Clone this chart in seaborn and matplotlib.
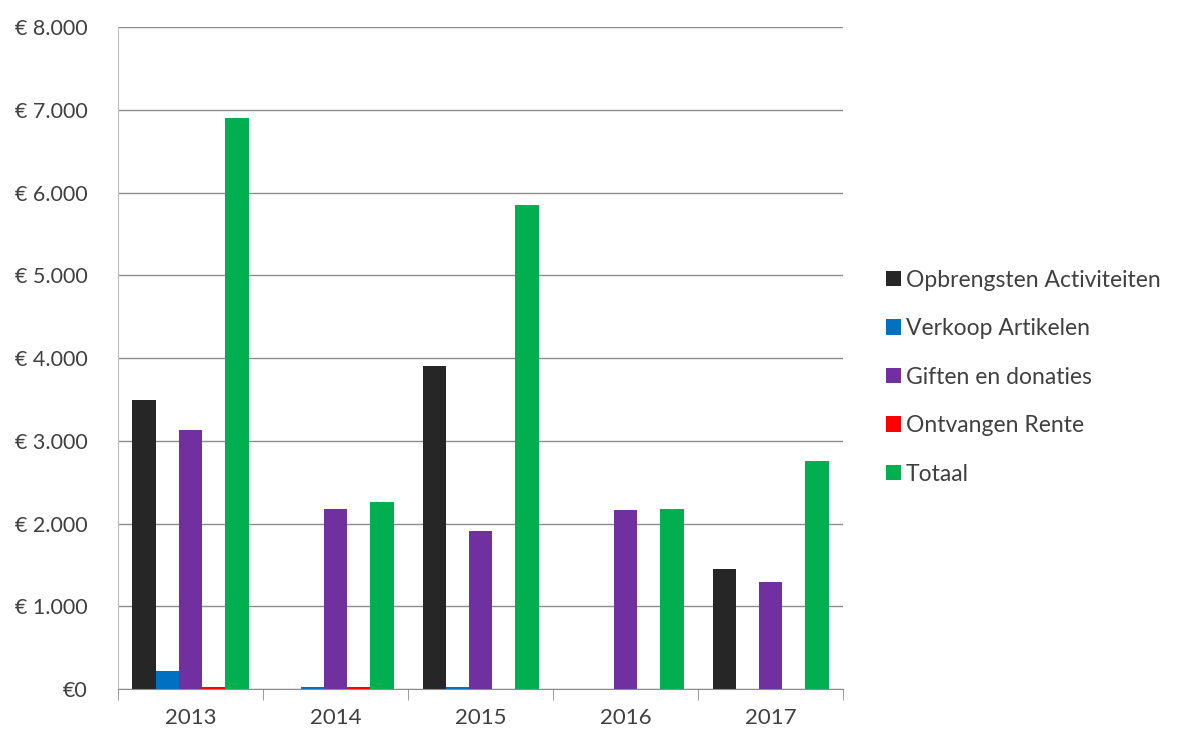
import numpy as np
import pandas as pd
import seaborn as sns
import matplotlib.pyplot as plt
from matplotlib.patches import Patch
from matplotlib.ticker import FuncFormatter, FixedLocator

years = ['2013', '2014', '2015', '2016', '2017']
series = ['Opbrengsten Activiteiten', 'Verkoop Artikelen', 'Giften en donaties',
          'Ontvangen Rente', 'Totaal']
colors = ['#262626', '#0070c0', '#7030a0', '#ff0000', '#00b050']

opbrengsten = [3490, 0, 3905, 0, 1445]
verkoop = [215, 25, 25, 0, 0]
giften = [3130, 2170, 1905, 2160, 1290]
rente = [30, 30, 0, 0, 0]
totaal = [6905, 2265, 5855, 2170, 2760]

values = [opbrengsten, verkoop, giften, rente, totaal]
rows = []
for name, vals in zip(series, values):
    for y, v in zip(years, vals):
        rows.append({'Jaar': y, 'Bron': name, 'Bedrag': v})
df = pd.DataFrame(rows)

sns.set_style('white')
plt.rcParams['font.family'] = ['Lato', 'DejaVu Sans']
text_col = '#404040'

fig = plt.figure(figsize=(11.81, 7.35), dpi=100)
ax = fig.add_axes([0.0999, 0.0626, 0.614, 0.9004])

sns.barplot(data=df, x='Jaar', y='Bedrag', hue='Bron', hue_order=series,
            palette=colors, ax=ax, saturation=1, width=0.8, legend=False,
            linewidth=0, edgecolor='none')

ax.set_ylim(0, 8000)
ax.set_xlim(-0.5, 4.5)
ax.set_yticks(np.arange(0, 8001, 1000))
ax.yaxis.set_major_formatter(FuncFormatter(
    lambda v, p: '€0' if v == 0 else '€ ' + f'{int(v):,}'.replace(',', '.')))
ax.grid(axis='y', color='#8c8c8c', linewidth=1)
ax.set_axisbelow(True)
ax.set_xlabel('')
ax.set_ylabel('')

for s in ['top', 'right']:
    ax.spines[s].set_visible(False)
ax.spines['left'].set_color('#bfbfbf')
ax.spines['bottom'].set_color('#8c8c8c')

ax.tick_params(axis='y', length=8, color='#8c8c8c', labelsize=15.5, labelcolor=text_col, pad=14)
ax.tick_params(axis='x', which='major', length=0, labelsize=16, labelcolor=text_col, pad=14)
ax.xaxis.set_minor_locator(FixedLocator(np.arange(-0.5, 4.6, 1)))
ax.tick_params(axis='x', which='minor', length=8, color='#8c8c8c', bottom=True)

handles = [Patch(facecolor=c, edgecolor='none') for c in colors]
fig.legend(handles, series, loc='center left', bbox_to_anchor=(0.733, 0.487),
           frameon=False, fontsize=16.5, labelcolor=text_col,
           handlelength=0.65, handleheight=0.65, handletextpad=0.2,
           labelspacing=1.2)

fig.savefig('out.png', dpi=100, facecolor='white')
